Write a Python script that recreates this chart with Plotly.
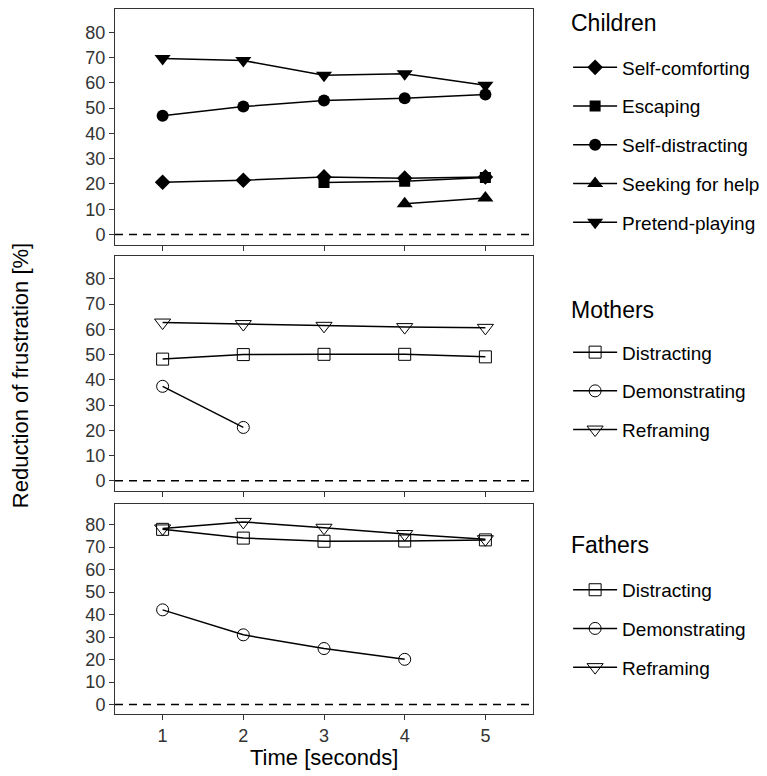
import plotly.graph_objects as go

time = [1, 2, 3, 4, 5]

# Children
children_names = ["Self-comforting", "Escaping", "Self-distracting", "Seeking for help", "Pretend-playing"]
children_self_comforting = [20.7, 21.5, 22.8, 22.3, 22.8]
children_escaping = [None, None, 20.6, 21.1, 22.6]
children_self_distracting = [47.0, 50.6, 53.0, 53.9, 55.4]
children_seeking_help = [None, None, None, 12.2, 14.5]
children_pretend_playing = [69.6, 68.8, 63.0, 63.6, 59.0]

# Mothers
parent_names = ["Distracting", "Demonstrating", "Reframing"]
mothers_distracting = [48.2, 50.0, 50.1, 50.1, 49.1]
mothers_demonstrating = [37.4, 21.1, None, None, None]
mothers_reframing = [62.7, 62.1, 61.4, 60.9, 60.6]

# Fathers
fathers_distracting = [77.9, 74.0, 72.6, 72.7, 73.2]
fathers_demonstrating = [42.1, 31.0, 24.9, 20.1, None]
fathers_reframing = [78.3, 81.2, 78.6, 75.8, 73.5]

group_titles = ["Children", "Mothers", "Fathers"]
y_ticks = [0, 10, 20, 30, 40, 50, 60, 70, 80]
x_ticks = [1, 2, 3, 4, 5]

FONT = "Liberation Sans, Arial, sans-serif"
FRAME = "#333333"

fig = go.Figure()

children_series = [children_self_comforting, children_escaping, children_self_distracting,
                   children_seeking_help, children_pretend_playing]
children_symbols = ["diamond", "square", "circle", "triangle-up", "triangle-down"]
children_sizes = [12, 11, 12, 14, 14]
for i, (name, vals, sym, sz) in enumerate(zip(children_names, children_series, children_symbols, children_sizes)):
    fig.add_trace(go.Scatter(
        x=time, y=vals, name=name, mode="lines+markers",
        line=dict(color="black", width=1.5),
        marker=dict(symbol=sym, size=sz, color="black"),
        xaxis="x", yaxis="y", legend="legend", legendgroup="c%d" % i,
    ))

parent_symbols = ["square-open", "circle-open", "triangle-down-open"]
parent_sizes = [12, 12, 14]
for panel, (series, leg, xa, ya) in enumerate([
        ([mothers_distracting, mothers_demonstrating, mothers_reframing], "legend2", "x2", "y2"),
        ([fathers_distracting, fathers_demonstrating, fathers_reframing], "legend3", "x3", "y3")]):
    for i, (name, vals, sym, sz) in enumerate(zip(parent_names, series, parent_symbols, parent_sizes)):
        fig.add_trace(go.Scatter(
            x=time, y=vals, name=name, mode="lines+markers",
            line=dict(color="black", width=1.5),
            marker=dict(symbol=sym, size=sz, color="black", line=dict(width=1, color="black")),
            xaxis=xa, yaxis=ya, legend=leg, legendgroup="p%d_%d" % (panel, i),
        ))

axis_common = dict(
    showline=True, mirror=True, linecolor=FRAME, linewidth=1,
    ticks="outside", ticklen=5, tickcolor=FRAME, tickwidth=1,
    showgrid=False, zeroline=False,
    tickfont=dict(family=FONT, size=18, color="#333333"),
)

domains = [[0.665, 1.0], [0.316, 0.650], [0.0, 0.298]]
for k in range(3):
    sx = "" if k == 0 else str(k + 1)
    fig.layout["xaxis" + sx] = dict(
        axis_common, domain=[0, 1], range=[0.41, 5.59], tickvals=x_ticks,
        showticklabels=(k == 2), anchor="y" + sx,
    )
    fig.layout["yaxis" + sx] = dict(
        axis_common, domain=domains[k], range=[-4.2, 89.2], tickvals=y_ticks,
        anchor="x" + sx,
    )
    fig.add_shape(type="line", xref="x%s domain" % sx, yref="y" + sx,
                  x0=0, x1=1, y0=0, y1=0,
                  line=dict(color="black", width=1.5, dash="8px,6px"))

legend_common = dict(
    xanchor="left", yanchor="top", x=1.084,
    font=dict(family=FONT, size=19, color="black"),
    bgcolor="rgba(0,0,0,0)", borderwidth=0,
    tracegroupgap=11, traceorder="grouped", itemwidth=44,
)
fig.update_layout(
    legend=dict(legend_common, y=0.944),
    legend2=dict(legend_common, y=0.540),
    legend3=dict(legend_common, y=0.203),
)

for title, ty in zip(group_titles, [0.980, 0.573, 0.240]):
    fig.add_annotation(text=title, xref="paper", yref="paper", x=1.087, y=ty,
                       xanchor="left", yanchor="middle", showarrow=False,
                       font=dict(family=FONT, size=23, color="black"))

fig.add_annotation(text="Reduction of frustration [%]", textangle=-90,
                   xref="paper", yref="paper", x=-0.226, y=0.48,
                   xanchor="center", yanchor="middle", showarrow=False,
                   font=dict(family=FONT, size=22, color="black"))
fig.add_annotation(text="Time [seconds]",
                   xref="paper", yref="paper", x=0.5, y=-0.061,
                   xanchor="center", yanchor="middle", showarrow=False,
                   font=dict(family=FONT, size=22, color="black"))

# The page body has an 8px default margin; size the figure to fit the window.
fig.update_layout(
    width=759, height=768,
    margin=dict(l=107, r=234, t=1, b=62, autoexpand=False),
    paper_bgcolor="white", plot_bgcolor="white",
    showlegend=True,
)

fig.write_html("out.html")
